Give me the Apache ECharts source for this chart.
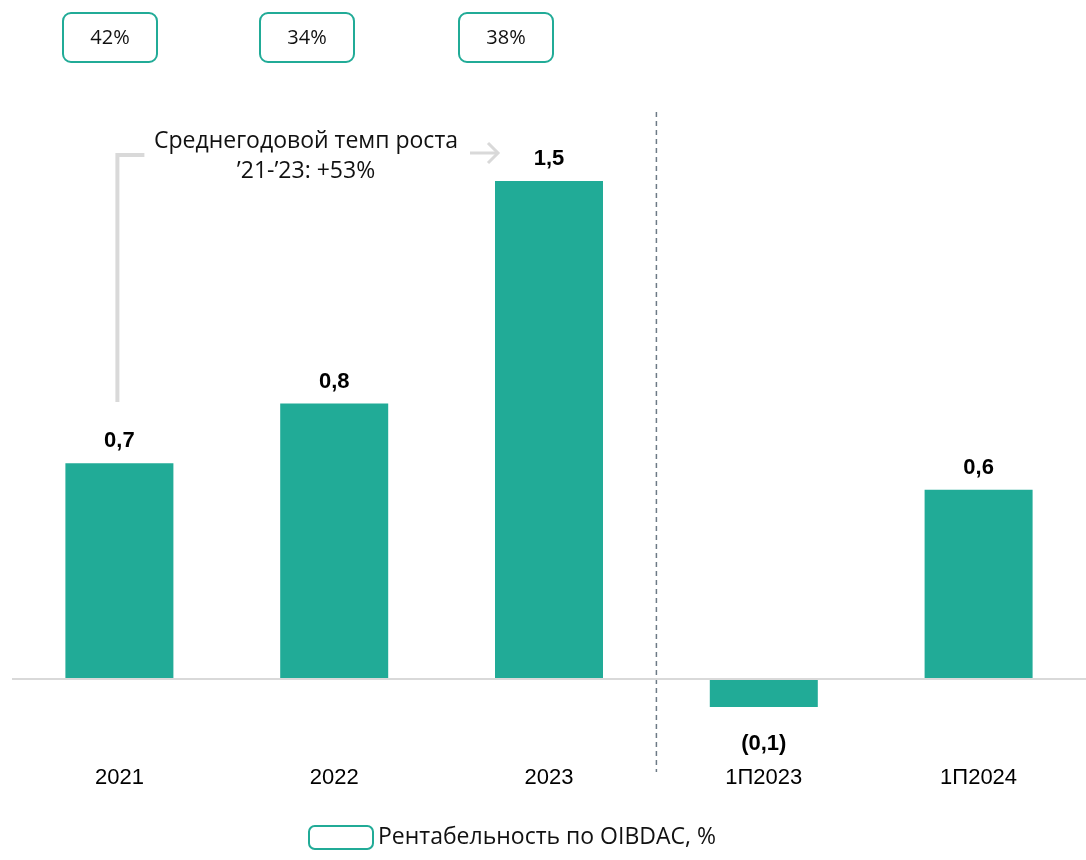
<!DOCTYPE html>
<html>
<head>
<meta charset="utf-8">
<script src="https://cdn.jsdelivr.net/npm/echarts@6/dist/echarts.min.js"></script>
<style>
  html, body { margin: 0; padding: 0; background: #fff; }
  #chart { width: 1086px; height: 860px; }
</style>
</head>
<body>
<div id="chart"></div>
<script>
// categories and values
var categories = ["2021", "2022", "2023", "1П2023", "1П2024"];
var oibdac = [0.65, 0.83, 1.5, -0.084, 0.57];
var valueLabels = ["0,7", "0,8", "1,5", "(0,1)", "0,6"];
var margins = ["42%", "34%", "38%"];
var cagrText = "Среднегодовой темп роста\n’21-’23: +53%";

var teal = "#21ab97";
var grey = "#d9d9d9";

var chart = echarts.init(document.getElementById("chart"));

var seriesData = oibdac.map(function (v, i) {
  var item = { value: v };
  if (v < 0) {
    item.label = { position: "bottom", distance: 26 };
  }
  return item;
});

var option = {
  animation: false,
  grid: { left: 12, width: 1077, top: 81.4, bottom: 94.6, containLabel: false },
  legend: {
    left: 303,
    bottom: 5,
    icon: "roundRect",
    itemWidth: 64,
    itemHeight: 23,
    itemGap: 15,
    itemStyle: { color: "#fff", borderColor: teal, borderWidth: 2 },
    textStyle: { fontFamily: "Open Sans", fontSize: 23, color: "#111" },
    data: ["Рентабельность по OIBDAC, %"]
  },
  xAxis: {
    type: "category",
    data: categories,
    axisLine: { show: false, onZero: false },
    axisTick: { show: false },
    axisLabel: {
      margin: 2,
      fontFamily: "Liberation Sans",
      fontSize: 22,
      color: "#000"
    }
  },
  yAxis: {
    type: "value",
    min: -0.26,
    max: 1.8,
    show: false,
    splitLine: { show: false }
  },
  series: [
    {
      name: "Рентабельность по OIBDAC, %",
      type: "bar",
      barWidth: 108,
      data: seriesData,
      itemStyle: { color: teal },
      label: {
        show: true,
        position: "top",
        distance: 11,
        fontFamily: "Liberation Sans",
        fontWeight: "bold",
        fontSize: 22,
        color: "#000",
        formatter: function (p) { return valueLabels[p.dataIndex]; }
      },
      markLine: {
        silent: true,
        symbol: "none",
        label: { show: false },
        lineStyle: { color: grey, width: 2, type: "solid" },
        data: [{ yAxis: 0 }]
      }
    }
  ]
};

chart.setOption(option);

// annotations placed from the axes
var x0 = chart.convertToPixel({ xAxisIndex: 0 }, 0);
var x2 = chart.convertToPixel({ xAxisIndex: 0 }, 2);
var x3 = chart.convertToPixel({ xAxisIndex: 0 }, 3);
var splitX = (x2 + x3) / 2;
var boxCenters = [109, 306, 505];

var graphics = [];

margins.forEach(function (m, i) {
  graphics.push({
    type: "group",
    left: boxCenters[i] - 47,
    top: 12,
    children: [
      {
        type: "rect",
        shape: { x: 0, y: 0, width: 94, height: 49, r: 8 },
        style: { fill: "#fff", stroke: teal, lineWidth: 2 }
      },
      {
        type: "text",
        x: 47,
        y: 25,
        style: {
          text: m,
          fontFamily: "Open Sans",
          fontSize: 20,
          fill: "#111",
          align: "center",
          verticalAlign: "middle"
        }
      }
    ]
  });
});

// dashed separator between full years and half-years
graphics.push({
  type: "line",
  shape: { x1: splitX, y1: 112, x2: splitX, y2: 772 },
  style: { stroke: "#6d7a86", lineWidth: 1.5, lineDash: [5, 4] }
});

// CAGR bracket
graphics.push({
  type: "polyline",
  shape: { points: [[x0 - 2, 402], [x0 - 2, 155], [x0 + 25, 155]] },
  style: { stroke: grey, lineWidth: 4, fill: null }
});
graphics.push({
  type: "text",
  x: 306,
  y: 156,
  style: {
    text: cagrText,
    fontFamily: "Open Sans",
    fontSize: 23,
    lineHeight: 30,
    fill: "#111",
    align: "center",
    verticalAlign: "middle"
  }
});
graphics.push({
  type: "polyline",
  shape: { points: [[470, 153], [498, 153]] },
  style: { stroke: grey, lineWidth: 3, fill: null }
});
graphics.push({
  type: "polyline",
  shape: { points: [[488, 143], [498, 153], [488, 163]] },
  style: { stroke: grey, lineWidth: 3, fill: null }
});

chart.setOption({ graphic: graphics });
</script>
</body>
</html>
